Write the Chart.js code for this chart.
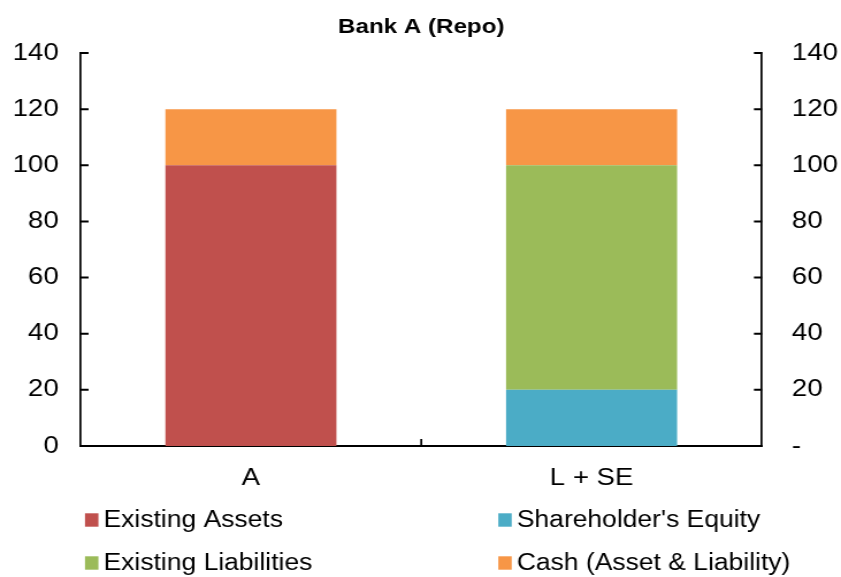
<!DOCTYPE html>
<html><head><meta charset="utf-8">
<script src="https://cdn.jsdelivr.net/npm/chart.js@4/dist/chart.umd.min.js"></script>
<style>html,body{margin:0;padding:0;background:#fff;overflow:hidden}canvas{display:block}</style>
</head><body>
<canvas id="c" width="731" height="577" style="width:841px;height:577px"></canvas>
<script>
const chartTitle = 'Bank A (Repo)';
const categories = ['A', 'L + SE'];
const seriesNames = ['Existing Assets', "Shareholder's Equity", 'Existing Liabilities', 'Cash (Asset & Liability)'];
const existingAssets = [100, 0];
const shareholdersEquity = [0, 20];
const existingLiabilities = [0, 80];
const cashAssetLiability = [20, 20];
const yMin = 0, yMax = 140, yStep = 20;
const rightZeroLabel = '-';
const seriesColors = ['#C0504D', '#4BACC6', '#9BBB59', '#F79646'];

const SX = 841 / 731; // the reference is horizontally stretched
const FONT = "'Liberation Sans', Arial, Helvetica, sans-serif";

const decor = {
  id: 'decor',
  afterDraw(chart) {
    const ctx = chart.ctx, a = chart.chartArea;
    const ys = chart.scales.y, xs = chart.scales.x;
    ctx.save();
    ctx.strokeStyle = '#000';
    ctx.lineWidth = 2;
    const tl = 8 / SX;
    ys.ticks.forEach(t => {
      const py = ys.getPixelForValue(t.value);
      ctx.beginPath();
      ctx.moveTo(a.left, py); ctx.lineTo(a.left + tl, py);
      ctx.moveTo(a.right, py); ctx.lineTo(a.right - tl, py);
      ctx.stroke();
    });
    ctx.lineWidth = 2 / SX;
    for (let i = 0; i < categories.length - 1; i++) {
      const px = (xs.getPixelForValue(i) + xs.getPixelForValue(i + 1)) / 2;
      ctx.beginPath(); ctx.moveTo(px, a.bottom); ctx.lineTo(px, a.bottom - 7); ctx.stroke();
    }
    // title
    ctx.fillStyle = '#000';
    ctx.font = `bold 21px ${FONT}`;
    ctx.textAlign = 'center'; ctx.textBaseline = 'alphabetic';
    ctx.fillText(chartTitle, (a.left + a.right) / 2, 33);
    // legend
    ctx.font = `23px ${FONT}`;
    ctx.textAlign = 'left'; ctx.textBaseline = 'middle';
    const cols = [85 / SX, 498.3 / SX], rows = [520, 563];
    chart.data.datasets.forEach((ds, i) => {
      const cx = cols[i % 2], cy = rows[Math.floor(i / 2)];
      ctx.fillStyle = ds.backgroundColor;
      ctx.fillRect(cx, cy - 6.7, 13.4 / SX, 13.4);
      ctx.fillStyle = '#000';
      ctx.fillText(ds.label, cx + 18.5 / SX, cy + 1);
    });
    ctx.restore();
  }
};

const dataArrays = [existingAssets, shareholdersEquity, existingLiabilities, cashAssetLiability];

new Chart(document.getElementById('c'), {
  type: 'bar',
  data: {
    labels: categories,
    datasets: dataArrays.map((d, i) => ({
      label: seriesNames[i],
      data: d,
      backgroundColor: seriesColors[i],
      borderWidth: 0,
      categoryPercentage: 1,
      barPercentage: 0.502
    }))
  },
  options: {
    responsive: false,
    devicePixelRatio: 1,
    animation: false,
    layout: { padding: { top: 53, left: 0, right: 0, bottom: 0 } },
    plugins: { legend: { display: false }, title: { display: false }, tooltip: { enabled: false } },
    scales: {
      x: {
        stacked: true,
        grid: { display: false, drawTicks: false },
        border: { display: true, color: '#000', width: 2 },
        ticks: { color: '#000', font: { family: FONT, size: 24 }, padding: 18 },
        afterFit(s) { s.height = 131; }
      },
      y: {
        stacked: true,
        position: 'left',
        min: yMin, max: yMax,
        grid: { display: false, drawTicks: false },
        border: { display: true, color: '#000', width: 2 / SX },
        ticks: { stepSize: yStep, color: '#000', font: { family: FONT, size: 24 }, padding: 19 },
        afterFit(s) { s.width = 70; }
      },
      y2: {
        position: 'right',
        min: yMin, max: yMax,
        grid: { display: false, drawTicks: false },
        border: { display: true, color: '#000', width: 2 / SX },
        ticks: { stepSize: yStep, color: '#000', font: { family: FONT, size: 24 }, padding: 26,
          callback: v => (v === 0 ? rightZeroLabel : v) },
        afterFit(s) { s.width = 68.7; }
      }
    }
  },
  plugins: [decor]
});
</script>
</body></html>
